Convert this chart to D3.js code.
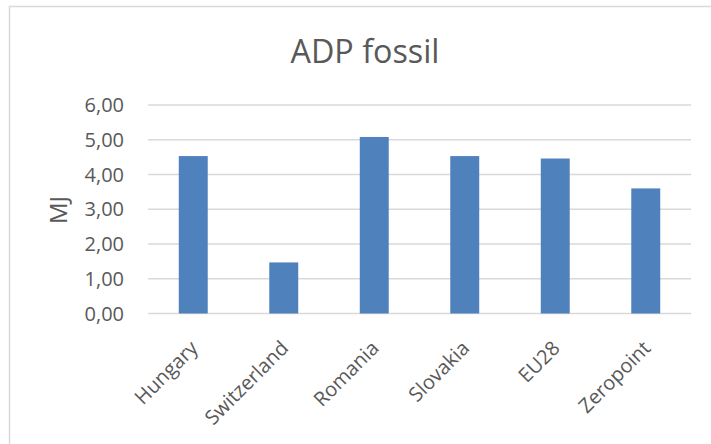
<!DOCTYPE html>
<html>
<head>
<meta charset="utf-8">
<script src="https://cdn.jsdelivr.net/npm/d3@7"></script>
<style>
  body { margin: 0; background: #fff; }
  text { font-family: "Open Sans", sans-serif; fill: #595959; }
</style>
</head>
<body>
<svg id="chart" width="711" height="444"></svg>
<script>
// data
const countries = ["Hungary", "Switzerland", "Romania", "Slovakia", "EU28", "Zeropoint"];
const adpFossil = [4.53, 1.47, 5.08, 4.53, 4.46, 3.60];
const yTicks = [0, 1, 2, 3, 4, 5, 6];

const svg = d3.select("#chart");
const margin = { left: 148, right: 20, top: 105, bottom: 130 };
const plotW = 691 - margin.left;
const plotH = 313.5 - margin.top;

// chart border (runs off the bottom/right of the view)
svg.append("rect")
    .attr("x", 9.5).attr("y", 6.5)
    .attr("width", 720).attr("height", 460)
    .attr("fill", "none")
    .attr("stroke", "#d9d9d9")
    .attr("stroke-width", 1.5);

svg.append("text")
    .attr("x", 365).attr("y", 63)
    .attr("text-anchor", "middle")
    .style("font-size", "32px")
    .attr("textLength", 149)
    .attr("lengthAdjust", "spacingAndGlyphs")
    .text("ADP fossil");

const g = svg.append("g").attr("transform", `translate(${margin.left},${margin.top})`);

const x = d3.scaleBand()
    .domain(countries)
    .range([0, plotW])
    .paddingInner(0.68)
    .paddingOuter(0.34);

const y = d3.scaleLinear()
    .domain([0, 6])
    .range([plotH, 0]);

const fmt = v => d3.format(".2f")(v).replace(".", ",");

// gridlines
g.selectAll(".grid")
    .data(yTicks)
    .enter().append("line")
    .attr("class", "grid")
    .attr("x1", 0).attr("x2", plotW)
    .attr("y1", d => y(d)).attr("y2", d => y(d))
    .attr("stroke", "#d9d9d9")
    .attr("stroke-width", 1.5);

// y axis labels
g.selectAll(".ytick")
    .data(yTicks)
    .enter().append("text")
    .attr("class", "ytick")
    .attr("x", -24)
    .attr("y", d => y(d))
    .attr("dy", "0.36em")
    .attr("text-anchor", "end")
    .style("font-size", "20px")
    .text(fmt);

// bars
g.selectAll(".bar")
    .data(adpFossil)
    .enter().append("rect")
    .attr("class", "bar")
    .attr("x", (d, i) => x(countries[i]))
    .attr("width", x.bandwidth())
    .attr("y", d => y(d))
    .attr("height", d => plotH - y(d))
    .attr("fill", "#4f81bd");

// x axis labels
g.selectAll(".xtick")
    .data(countries)
    .enter().append("text")
    .attr("class", "xtick")
    .attr("text-anchor", "end")
    .style("font-size", "20px")
    .attr("transform", d => `translate(${x(d) + x.bandwidth() / 2 + 1},${plotH + 31}) rotate(-45)`)
    .attr("dy", "0.35em")
    .text(d => d);

// y axis title
svg.append("text")
    .attr("transform", "translate(59,210) rotate(-90)")
    .attr("text-anchor", "middle")
    .attr("dy", "0.35em")
    .style("font-size", "24px")
    .text("MJ");
</script>
</body>
</html>
